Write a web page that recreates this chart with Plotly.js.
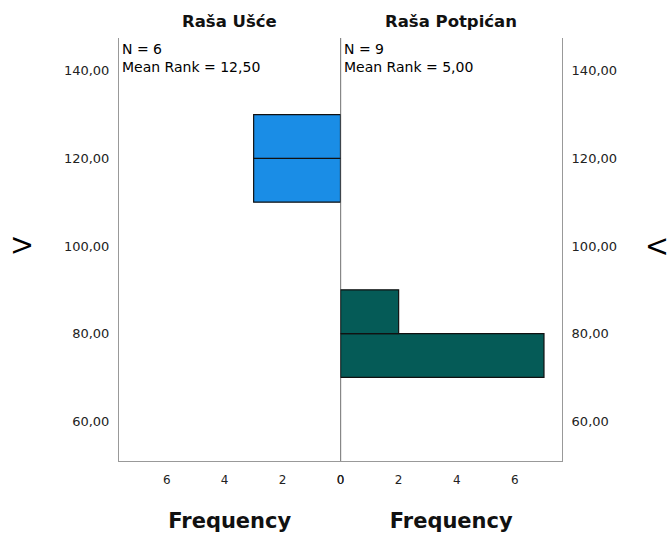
<!DOCTYPE html>
<html><head><meta charset="utf-8">
<script src="https://cdn.plot.ly/plotly-3.0.1.min.js"></script>
<style>body{margin:0;background:#fff}#c{width:671px;height:539px}</style>
</head><body><div id="c"></div>
<script>
const groups = ["Raša Ušće", "Raša Potpićan"];
const leftBins = [115, 125];
const leftFreq = [3, 3];
const rightBins = [75, 85];
const rightFreq = [7, 2];
const binWidth = 10;
const yTicks = [60, 80, 100, 120, 140];
const yTickText = ["60,00", "80,00", "100,00", "120,00", "140,00"];
const xTicks = [0, 2, 4, 6];
const stats = ["N = 6<br>Mean Rank = 12,50", "N = 9<br>Mean Rank = 5,00"];
const yTitle = "V";
const xTitle = "Frequency";

const F = "DejaVu Sans, Verdana, sans-serif";
const data = [
  {type:'bar', orientation:'h', y:leftBins, x:leftFreq, width:binWidth, xaxis:'x', yaxis:'y',
   marker:{color:'#1a8de6', line:{color:'#111', width:1.2}}, hoverinfo:'skip'},
  {type:'bar', orientation:'h', y:rightBins, x:rightFreq, width:binWidth, xaxis:'x2', yaxis:'y2',
   marker:{color:'#055b57', line:{color:'#111', width:1.2}}, hoverinfo:'skip'}
];
const yax = {range:[50.9,147.5], tickvals:yTicks, ticktext:yTickText, showgrid:false, zeroline:false,
  showline:true, linecolor:'#999', linewidth:1, ticks:'', ticklabelstandoff:6, tickfont:{family:F,size:13,color:'#222'}};
const xax = {range:[7.65,0], tickvals:xTicks, showgrid:false, zeroline:false, showline:true,
  linecolor:'#999', linewidth:1, ticks:'', tickfont:{family:F,size:12,color:'#222'}, ticklabelstandoff:8};
const titleFont = {family:F,size:21,color:'#111',weight:'bold'};
const statFont = {family:F,size:14,color:'#000'};
const layout = {
  width:671, height:539, margin:{l:119, r:109, t:38, b:78},
  paper_bgcolor:'#fff', plot_bgcolor:'#fff', showlegend:false, bargap:0,
  xaxis: Object.assign({}, xax, {domain:[0,0.5], anchor:'y',
    title:{text:xTitle, font:titleFont, standoff:26}}),
  xaxis2: Object.assign({}, xax, {domain:[0.5,1], range:[0,7.62], anchor:'y2',
    title:{text:xTitle, font:titleFont, standoff:26}}),
  yaxis: Object.assign({}, yax, {anchor:'x', side:'left'}),
  yaxis2: Object.assign({}, yax, {anchor:'x2', side:'right'}),
  shapes:[{type:'line', xref:'x2', yref:'paper', x0:0, x1:0, y0:0, y1:1, line:{color:'#111', width:1.2}}],
  annotations:[
    {text:'<b>'+groups[0]+'</b>', xref:'paper', yref:'paper', x:0.25, xanchor:'center', y:1, yshift:5, yanchor:'bottom', showarrow:false, font:{family:F,size:16.5,color:'#111'}},
    {text:'<b>'+groups[1]+'</b>', xref:'paper', yref:'paper', x:0.75, xanchor:'center', y:1, yshift:5, yanchor:'bottom', showarrow:false, font:{family:F,size:16.5,color:'#111'}},
    {text:stats[0], xref:'paper', yref:'paper', x:0, xshift:1, y:1, yshift:-1, xanchor:'left', yanchor:'top', align:'left', showarrow:false, font:statFont},
    {text:stats[1], xref:'paper', yref:'paper', x:0.5, xshift:1, y:1, yshift:-1, xanchor:'left', yanchor:'top', align:'left', showarrow:false, font:statFont},
    {text:yTitle, xref:'paper', yref:'y', x:0, xshift:-97, y:100, textangle:-90, xanchor:'center', yanchor:'middle', showarrow:false, font:{family:F,size:25,color:'#000'}},
    {text:yTitle, xref:'paper', yref:'y', x:1, xshift:95, y:100, textangle:90, xanchor:'center', yanchor:'middle', showarrow:false, font:{family:F,size:25,color:'#000'}}
  ]
};
Plotly.newPlot('c', data, layout, {displayModeBar:false, staticPlot:true});
</script></body></html>
